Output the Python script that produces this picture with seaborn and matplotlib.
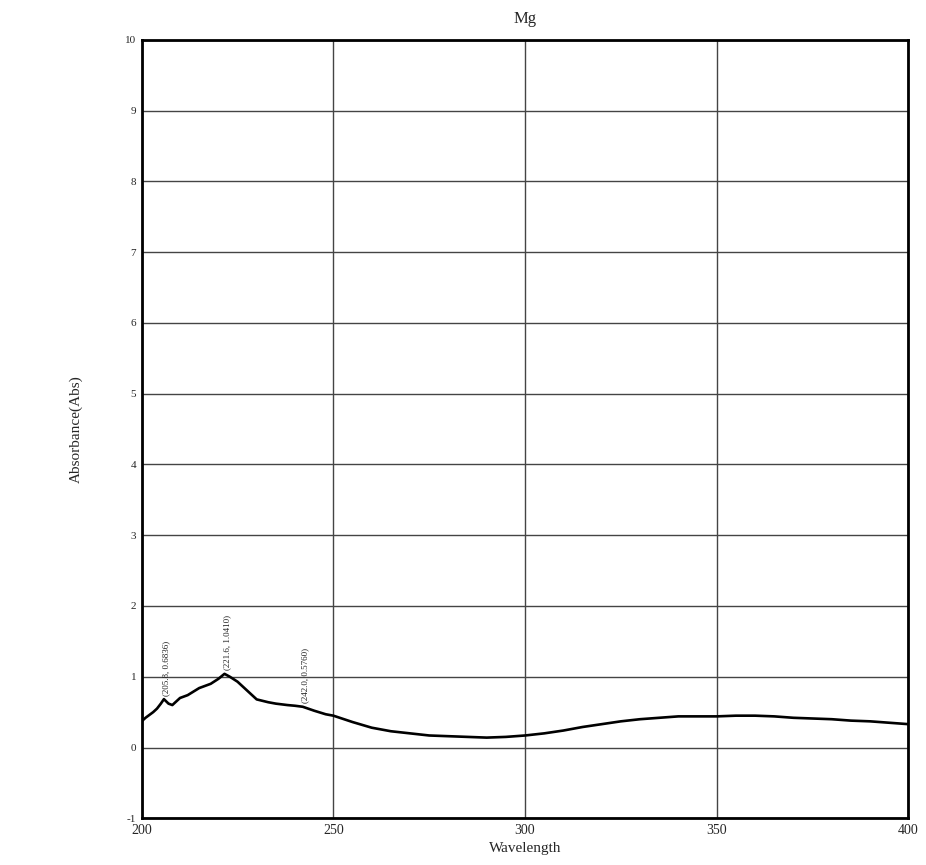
import matplotlib
matplotlib.use("Agg")
import matplotlib.pyplot as plt
import seaborn as sns
import pandas as pd

# UV-Vis absorbance spectrum of the Mg sample
wavelength = [200, 201, 202, 203, 204, 205, 205.8, 207, 208, 210, 212, 215, 218, 220,
              221.6, 223, 225, 228, 230, 233, 235, 238, 240, 242, 245, 248, 250, 255,
              260, 265, 270, 275, 280, 285, 290, 295, 300, 305, 310, 315, 320, 325,
              330, 335, 340, 345, 350, 355, 360, 365, 370, 375, 380, 385, 390, 395, 400]
absorbance = [0.37, 0.42, 0.46, 0.50, 0.55, 0.62, 0.6836, 0.62, 0.60, 0.70, 0.74, 0.84, 0.90, 0.97,
              1.0410, 1.00, 0.93, 0.78, 0.68, 0.64, 0.62, 0.60, 0.59, 0.5760, 0.52, 0.47, 0.45, 0.36,
              0.28, 0.23, 0.20, 0.17, 0.16, 0.15, 0.14, 0.15, 0.17, 0.20, 0.24, 0.29, 0.33, 0.37,
              0.40, 0.42, 0.44, 0.44, 0.44, 0.45, 0.45, 0.44, 0.42, 0.41, 0.40, 0.38, 0.37, 0.35, 0.33]

peak_x = [205.8, 221.6, 242.0]
peak_y = [0.6836, 1.0410, 0.5760]

x_ticks = [200, 250, 300, 350, 400]
y_ticks = list(range(-1, 11))

sns.set_theme(style="white")
plt.rcParams["font.family"] = ["Liberation Serif", "DejaVu Serif"]

fig = plt.figure(figsize=(9.26, 8.65), dpi=100)
ax = fig.add_axes([0.153, 0.054, 0.828, 0.900])

df = pd.DataFrame({"Wavelength": wavelength, "Absorbance": absorbance})

# grid
for yv in y_ticks:
    ax.axhline(yv, color="#444444", lw=1.0, zorder=1)
for xv in x_ticks:
    ax.axvline(xv, color="#444444", lw=1.0, zorder=1)

sns.lineplot(data=df, x="Wavelength", y="Absorbance", ax=ax, color="black",
             lw=1.9, zorder=3)

for px, py in zip(peak_x, peak_y):
    ax.text(px + 0.6, py + 0.05, f"({px:.1f}, {py:.4f})", rotation=90,
            fontsize=6.5, ha="center", va="bottom", color="#222222", zorder=4)

ax.set_xlim(200, 400)
ax.set_ylim(-1, 10)
ax.set_xticks(x_ticks)
ax.set_yticks(y_ticks)
ax.tick_params(axis="both", length=0, pad=4)
ax.set_xticklabels([str(v) for v in x_ticks], fontsize=10)
ax.set_yticklabels([str(v) for v in y_ticks], fontsize=8)

for sp in ax.spines.values():
    sp.set_color("black")
    sp.set_linewidth(2.0)

ax.set_title("Mg", fontsize=12, pad=12)
ax.set_xlabel("Wavelength", fontsize=11, labelpad=4)
ax.set_ylabel("Absorbance(Abs)", fontsize=11, labelpad=30)

fig.savefig("out.png", dpi=100)
